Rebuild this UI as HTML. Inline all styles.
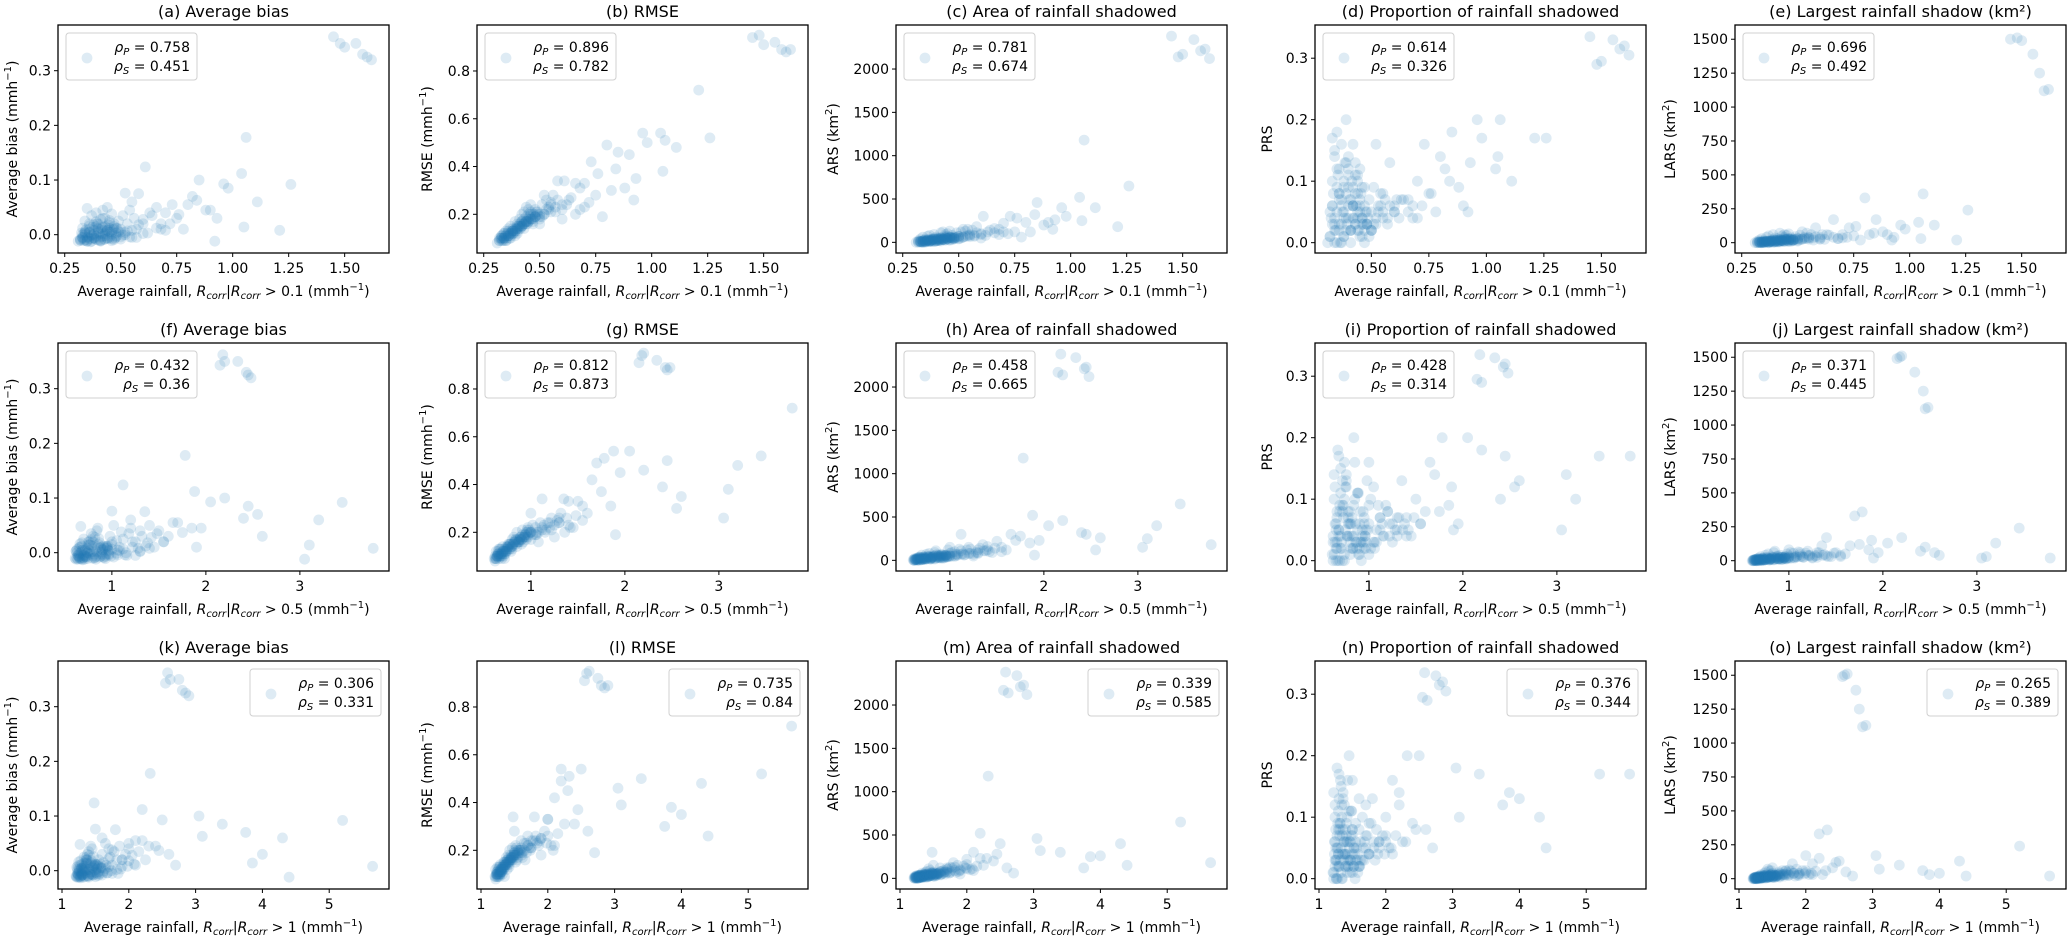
<!DOCTYPE html>
<html><head><meta charset="utf-8"><style>
html,body{margin:0;padding:0;background:#fff;}
svg{display:block;font-family:"DejaVu Sans","Liberation Sans",sans-serif;}
</style></head><body>
<svg id="fig" width="2067" height="936" viewBox="0 0 2067 936" xmlns="http://www.w3.org/2000/svg"></svg>
<script>
// Events: x-values for three thresholds, y-values for five metrics
const xR01 = [1.45,1.48,1.50,1.55,1.58,1.60,1.62, 1.06,1.21,1.26,0.61,1.04,1.11,0.85,0.96,0.98,0.92,1.05,0.82,0.90,0.93,0.80,0.76,0.73,0.70,0.88,0.84,0.75,0.66,0.58,0.52,0.72,0.68,0.63,0.55,0.78,0.60,
0.31,0.32,0.33,0.33,0.34,0.34,0.35,0.35,0.36,0.36,0.37,0.37,0.38,0.38,0.39,0.39,0.40,0.40,0.41,0.41,0.42,0.42,0.43,0.43,0.44,0.44,0.45,0.45,0.46,0.46,0.47,0.48,0.49,0.50,0.51,0.52,0.53,0.54,0.55,0.56,0.57,0.58,0.60,0.62,0.64,0.66,0.68,0.70,
0.32,0.33,0.34,0.35,0.36,0.37,0.38,0.39,0.40,0.41,0.42,0.43,0.44,0.45,0.46,0.47,0.48,0.50,0.38,0.40,0.36,0.42,0.44,0.34];
const xR05 = [2.18,2.20,2.15,2.34,2.43,2.45,2.48, 1.78,3.78,3.45,1.12,1.88,3.20,2.20,2.05,2.45,3.05,3.10,2.55,1.95,2.60,1.70,1.75,1.65,1.50,1.85,2.40,1.60,1.40,1.35,1.00,1.55,1.45,1.30,1.20,1.90,1.25,
0.62,0.65,0.63,0.68,0.66,0.70,0.67,0.72,0.69,0.75,0.71,0.78,0.73,0.80,0.76,0.84,0.79,0.88,0.82,0.90,0.85,0.95,0.87,0.98,0.91,1.02,0.93,1.05,0.96,1.10,1.00,1.06,1.12,1.08,1.18,1.15,1.22,1.20,1.28,1.32,1.25,1.38,1.42,1.30,1.48,1.36,1.55,1.40,
0.61,0.64,0.62,0.64,0.66,0.65,0.68,0.70,0.72,0.74,0.77,0.80,0.83,0.86,0.89,0.92,0.94,0.97,0.74,0.76,0.72,0.81,0.88,0.68];
const xR1 = [2.58,2.62,2.55,2.75,2.80,2.85,2.90, 2.32,5.65,5.20,1.48,2.20,4.30,3.05,2.50,3.40,4.40,3.85,3.75,2.30,4.00,2.20,2.45,2.10,2.00,2.40,3.10,2.60,2.00,1.80,1.50,1.90,2.10,1.70,1.60,2.70,1.90,
1.22,1.25,1.24,1.30,1.28,1.33,1.27,1.35,1.29,1.38,1.32,1.40,1.31,1.42,1.36,1.45,1.39,1.48,1.41,1.52,1.43,1.55,1.46,1.60,1.50,1.65,1.53,1.70,1.58,1.75,1.62,1.68,1.72,1.66,1.78,1.74,1.82,1.86,1.90,1.95,1.84,2.00,2.05,1.88,2.15,2.08,2.25,1.98,
1.21,1.23,1.26,1.24,1.27,1.26,1.28,1.30,1.32,1.34,1.37,1.40,1.44,1.47,1.50,1.54,1.57,1.61,1.34,1.36,1.31,1.42,1.49,1.29];
const biasVals = [0.362,0.350,0.343,0.350,0.330,0.325,0.320, 0.178,0.008,0.092,0.124,0.112,0.060,0.100,0.093,0.085,-0.012,0.014,0.070,0.045,0.030,0.055,0.037,0.055,0.040,0.045,0.063,0.030,0.050,0.075,0.076,0.020,0.010,0.040,0.060,0.010,0.020,
-0.012,-0.008,0.000,0.012,-0.010,0.025,0.048,-0.005,0.005,0.020,-0.012,0.035,0.002,-0.006,0.015,0.040,-0.010,0.010,0.028,-0.004,0.045,0.008,-0.008,0.030,0.012,0.050,-0.006,0.022,0.005,0.038,0.015,-0.004,0.025,0.010,0.035,0.000,0.020,0.045,0.008,0.030,-0.005,0.018,0.028,0.003,0.035,0.012,0.020,0.008,
-0.010,-0.005,0.003,-0.012,0.010,-0.002,0.018,-0.009,0.006,-0.011,0.014,0.002,-0.007,0.026,0.001,-0.009,0.012,-0.004,0.000,0.020,-0.007,-0.003,0.008,0.004];
const rmseVals = [0.94,0.95,0.91,0.92,0.89,0.88,0.89, 0.51,0.72,0.52,0.34,0.54,0.48,0.46,0.54,0.50,0.26,0.38,0.30,0.45,0.35,0.49,0.37,0.42,0.33,0.31,0.39,0.28,0.33,0.34,0.28,0.25,0.22,0.26,0.24,0.19,0.18,
0.08,0.10,0.09,0.11,0.10,0.12,0.13,0.09,0.11,0.14,0.10,0.15,0.12,0.13,0.14,0.17,0.12,0.16,0.18,0.15,0.20,0.17,0.16,0.21,0.19,0.23,0.18,0.22,0.20,0.24,0.17,0.19,0.21,0.16,0.24,0.20,0.26,0.22,0.25,0.28,0.23,0.26,0.22,0.24,0.27,0.20,0.31,0.23,
0.09,0.10,0.09,0.10,0.11,0.12,0.13,0.11,0.13,0.14,0.15,0.14,0.16,0.17,0.18,0.16,0.19,0.18,0.12,0.14,0.11,0.15,0.17,0.10];
const arsVals = [2380,2140,2170,2340,2210,2230,2120, 1180,180,650,300,520,400,460,400,300,150,250,120,230,260,230,280,300,220,200,320,120,160,180,150,100,90,120,80,60,50,
0,20,10,40,5,60,30,15,25,70,10,80,35,20,50,90,15,60,40,25,110,55,30,120,70,90,45,100,60,130,80,50,110,70,120,60,130,150,90,140,70,110,100,80,140,110,150,120,
5,10,0,8,18,12,30,10,40,20,45,35,25,65,50,30,60,40,20,35,15,30,55,12];
const prsVals = [0.335,0.290,0.295,0.330,0.315,0.320,0.305, 0.200,0.170,0.170,0.070,0.120,0.100,0.180,0.200,0.170,0.050,0.140,0.120,0.060,0.130,0.140,0.080,0.160,0.100,0.090,0.100,0.080,0.070,0.130,0.160,0.060,0.040,0.070,0.080,0.050,0.060,
0.00,0.05,0.10,0.17,0.02,0.15,0.18,0.00,0.08,0.12,0.03,0.06,0.09,0.01,0.13,0.20,0.04,0.11,0.07,0.02,0.16,0.06,0.03,0.13,0.08,0.10,0.05,0.12,0.04,0.09,0.06,0.03,0.07,0.05,0.09,0.04,0.06,0.08,0.05,0.07,0.03,0.06,0.05,0.04,0.07,0.05,0.06,0.04,
0.01,0.06,0.03,0.12,0.07,0.00,0.05,0.02,0.09,0.00,0.04,0.08,0.02,0.06,0.01,0.00,0.03,0.02,0.10,0.14,0.08,0.06,0.11,0.04];
const larsVals = [1500,1510,1490,1390,1250,1120,1130, 360,20,240,60,150,130,170,130,100,20,30,60,60,40,330,120,110,60,80,70,50,170,110,80,40,30,60,40,20,25,
0,10,5,20,0,30,15,5,10,40,0,50,20,10,25,60,5,35,30,10,70,20,15,50,40,60,25,55,30,65,35,20,45,30,55,25,40,70,35,60,20,45,30,25,55,40,30,35,
0,5,0,5,8,0,12,3,18,5,22,15,8,28,15,10,22,12,8,15,5,12,30,5];

// dense core events
const coreX01 = [0.32,0.33,0.34,0.35,0.36,0.37,0.38,0.39,0.40,0.41,0.42,0.43,0.44,0.45,0.46,0.47,0.48,0.49,0.50,0.52,
0.325,0.335,0.345,0.355,0.365,0.375,0.385,0.395,0.405,0.415,0.425,0.435,0.445,0.455,0.465,0.475,0.485,0.51,0.53,0.55,
0.33,0.34,0.35,0.36,0.37,0.38,0.39,0.40,0.41,0.42,0.43,0.44,0.45,0.46,0.47,0.48,0.50,0.54,0.57,0.60];
const coreX05 = [0.63,0.64,0.67,0.68,0.71,0.73,0.74,0.77,0.79,0.81,0.84,0.86,0.88,0.90,0.93,0.95,0.97,1.00,1.02,1.08,
0.62,0.66,0.65,0.70,0.69,0.75,0.72,0.80,0.78,0.85,0.82,0.90,0.87,0.94,0.92,0.99,0.96,1.05,1.12,1.16,
0.65,0.63,0.69,0.66,0.74,0.70,0.78,0.76,0.83,0.80,0.89,0.84,0.95,0.91,1.00,0.97,1.06,1.14,1.22,1.30];
const coreX1 = [1.22,1.24,1.26,1.27,1.30,1.31,1.33,1.35,1.37,1.39,1.41,1.43,1.45,1.47,1.50,1.52,1.55,1.58,1.60,1.65,
1.23,1.25,1.24,1.29,1.28,1.33,1.30,1.37,1.35,1.42,1.39,1.46,1.44,1.50,1.48,1.56,1.53,1.62,1.70,1.75,
1.24,1.22,1.28,1.25,1.32,1.29,1.36,1.34,1.40,1.38,1.45,1.42,1.50,1.47,1.55,1.52,1.60,1.68,1.75,1.82];
const coreBias = [-0.010,-0.005,0.000,-0.012,0.004,-0.008,0.008,-0.003,0.012,-0.010,0.002,0.015,-0.006,0.005,-0.011,0.010,-0.002,0.006,-0.008,0.004,
0.003,-0.011,0.009,-0.004,-0.013,0.014,-0.007,0.020,0.001,0.011,-0.009,0.006,0.018,-0.003,0.009,-0.006,0.012,-0.001,0.007,-0.005,
-0.007,0.006,-0.010,0.016,0.000,-0.006,0.024,0.004,-0.012,0.030,-0.002,0.008,0.012,-0.008,0.020,0.003,0.005,-0.004,0.010,0.002];
const coreRmse = [0.09,0.10,0.10,0.11,0.12,0.11,0.13,0.13,0.14,0.15,0.15,0.16,0.17,0.17,0.18,0.18,0.19,0.20,0.19,0.20,
0.10,0.09,0.11,0.12,0.10,0.13,0.12,0.14,0.15,0.14,0.16,0.17,0.16,0.19,0.18,0.20,0.21,0.19,0.22,0.21,
0.11,0.12,0.09,0.13,0.12,0.14,0.13,0.15,0.16,0.17,0.18,0.17,0.20,0.21,0.20,0.22,0.20,0.23,0.21,0.24];
const coreArs = [5,10,15,0,20,25,10,30,20,35,15,40,30,45,25,50,40,55,45,60,
15,5,25,10,30,20,35,15,40,25,50,35,45,30,55,45,60,50,70,65,
0,20,10,30,15,25,40,20,45,30,35,55,40,60,50,45,70,75,80,90];
const corePrs = [0.01,0.03,0.00,0.05,0.02,0.07,0.01,0.04,0.06,0.02,0.09,0.03,0.05,0.01,0.04,0.02,0.03,0.01,0.02,0.03,
0.04,0.08,0.02,0.11,0.00,0.05,0.13,0.03,0.07,0.10,0.04,0.06,0.02,0.08,0.03,0.05,0.04,0.03,0.05,0.04,
0.06,0.14,0.09,0.03,0.16,0.04,0.08,0.12,0.02,0.06,0.11,0.04,0.07,0.03,0.09,0.05,0.02,0.06,0.04,0.05];
const coreLars = [0,5,3,0,8,10,5,12,8,15,6,18,12,20,10,22,15,25,18,28,
5,0,10,4,12,8,15,6,18,10,22,14,20,12,25,18,28,22,30,26,
0,8,4,12,6,10,16,8,20,12,14,24,18,26,22,20,30,32,35,40];

const xSeries = [xR01.concat(coreX01), xR05.concat(coreX05), xR1.concat(coreX1)];
const ySeries = [biasVals.concat(coreBias), rmseVals.concat(coreRmse), arsVals.concat(coreArs), prsVals.concat(corePrs), larsVals.concat(coreLars)];
const titleNames = ["Average bias","RMSE","Area of rainfall shadowed","Proportion of rainfall shadowed","Largest rainfall shadow (km\u00B2)"];
const letters = ["a","b","c","d","e","f","g","h","i","j","k","l","m","n","o"];
const thresholds = ["0.1","0.5","1"];
const rhoP = [["0.758","0.896","0.781","0.614","0.696"],["0.432","0.812","0.458","0.428","0.371"],["0.306","0.735","0.339","0.376","0.265"]];
const rhoS = [["0.451","0.782","0.674","0.326","0.492"],["0.36","0.873","0.665","0.314","0.445"],["0.331","0.84","0.585","0.344","0.389"]];
const yTicks = [[0,0.1,0.2,0.3],[0.2,0.4,0.6,0.8],[0,500,1000,1500,2000],[0,0.1,0.2,0.3],[0,250,500,750,1000,1250,1500]];
const yTickLabels = [["0.0","0.1","0.2","0.3"],["0.2","0.4","0.6","0.8"],["0","500","1000","1500","2000"],["0.0","0.1","0.2","0.3"],["0","250","500","750","1000","1250","1500"]];
const xTicks = [[0.25,0.5,0.75,1.0,1.25,1.5],[1,2,3],[1,2,3,4,5]];
const xTickLabels = [["0.25","0.50","0.75","1.00","1.25","1.50"],["1","2","3"],["1","2","3","4","5"]];

// layout
const colLeft = [58,477,896,1315,1735];
const rowTop = [25,343,661];
const W = 331, H = 228;
const yDom = [[-0.0335,0.3836],[0.038,0.9925],[-123,2508],[-0.0168,0.354],[-76,1605]];
const xDom = [[0.22,1.698],[0.427,3.948],[0.94,5.895]];
const yLabelOff = [46,50,63,48,65];

const NS = "http://www.w3.org/2000/svg";
const svg = document.getElementById('fig');
function mk(tag, attrs, parent){const e=document.createElementNS(NS,tag);for(const k in attrs)e.setAttribute(k,attrs[k]);(parent||svg).appendChild(e);return e;}

for(let r=0;r<3;r++){
  for(let c=0;c<5;c++){
    const L=colLeft[c], T=rowTop[r];
    let xd = xDom[r].slice();
    if(r===0 && c===3) xd=[0.255,1.694];
    const xs = v => L + (v-xd[0])/(xd[1]-xd[0])*W;
    const ys = v => T + H - (v-yDom[c][0])/(yDom[c][1]-yDom[c][0])*H;
    const g = mk('g',{});
    
    
    const t = mk('text',{x:L+W/2,y:T-8,'text-anchor':'middle','font-size':'16'},g);
    t.textContent = '('+letters[r*5+c]+') '+titleNames[c];
    
    
    const pts = mk('g',{fill:'#1f77b4','fill-opacity':'0.15'},g);
    
    
    const xv = xSeries[r], yv = ySeries[c];
    for(let i=0;i<xv.length;i++){
      const p = mk('circle',{cx:xs(xv[i]).toFixed(1),cy:ys(yv[i]).toFixed(1),r:5.4},pts);
      
      
    }
    const fr = mk('rect',{x:L,y:T,width:W,height:H,fill:'none',stroke:'#000','stroke-width':'1.3'},g);
    
    
    yTicks[c].forEach((v,i)=>{
      const y=ys(v);
      mk('line',{x1:L-4,x2:L,y1:y,y2:y,stroke:'#000','stroke-width':'1'},g);
      const tl = mk('text',{x:L-7,y:y+5,'text-anchor':'end','font-size':'14'},g);
      tl.textContent = yTickLabels[c][i];
      
      
    });
    xTicks[r].forEach((v,i)=>{
      const x=xs(v);
      if(x<L-0.5||x>L+W+0.5) return;
      mk('line',{x1:x,x2:x,y1:T+H,y2:T+H+4,stroke:'#000','stroke-width':'1'},g);
      const tl = mk('text',{x:x,y:T+H+20,'text-anchor':'middle','font-size':'14'},g);
      tl.textContent = xTickLabels[r][i];
      
      
    });
    const xl = mk('text',{x:L+W/2,y:T+H+43,'text-anchor':'middle','font-size':'14'},g);
    xl.innerHTML = 'Average rainfall, <tspan font-style="italic">R</tspan><tspan font-style="italic" font-size="10" dy="3">corr</tspan><tspan dy="-3">|</tspan><tspan font-style="italic">R</tspan><tspan font-style="italic" font-size="10" dy="3">corr</tspan><tspan dy="-3"> &gt; '+thresholds[r]+' (mmh</tspan><tspan font-size="10" dy="-6">\u22121</tspan><tspan dy="6">)</tspan>';
    
    
    const yl = mk('text',{x:0,y:0,'text-anchor':'middle','font-size':'14',transform:'translate('+(L-yLabelOff[c]+5)+','+(T+H/2)+') rotate(-90)'},g);
    const ylab = ['Average bias (mmh<tspan font-size="10" dy="-6">\u22121</tspan><tspan dy="6">)</tspan>','RMSE  (mmh<tspan font-size="10" dy="-6">\u22121</tspan><tspan dy="6">)</tspan>','ARS (km<tspan font-size="10" dy="-6">2</tspan><tspan dy="6">)</tspan>','PRS','LARS (km<tspan font-size="10" dy="-6">2</tspan><tspan dy="6">)</tspan>'];
    yl.innerHTML = ylab[c];
    
    
    const lx = r<2 ? L+8 : L+W-8-131, ly = T+8;
    const lg = mk('g',{},g);
    
    
    mk('rect',{x:lx,y:ly,width:131,height:47,rx:3,fill:'#fff','fill-opacity':'0.8',stroke:'#d0d0d0','stroke-width':'1'},lg);
    mk('circle',{cx:lx+21,cy:ly+25,r:5.4,fill:'#1f77b4','fill-opacity':'0.15'},lg);
    const l1 = mk('text',{x:lx+124,y:ly+19,'text-anchor':'end','font-size':'14'},lg);
    l1.innerHTML = '<tspan font-style="italic">\u03C1</tspan><tspan font-style="italic" font-size="10" dy="3">P</tspan><tspan dy="-3"> = '+rhoP[r][c]+'</tspan>';
    
    
    const l2 = mk('text',{x:lx+124,y:ly+38,'text-anchor':'end','font-size':'14'},lg);
    l2.innerHTML = '<tspan font-style="italic">\u03C1</tspan><tspan font-style="italic" font-size="10" dy="3">S</tspan><tspan dy="-3"> = '+rhoS[r][c]+'</tspan>';
    
    
  }
}
</script>
</body></html>
